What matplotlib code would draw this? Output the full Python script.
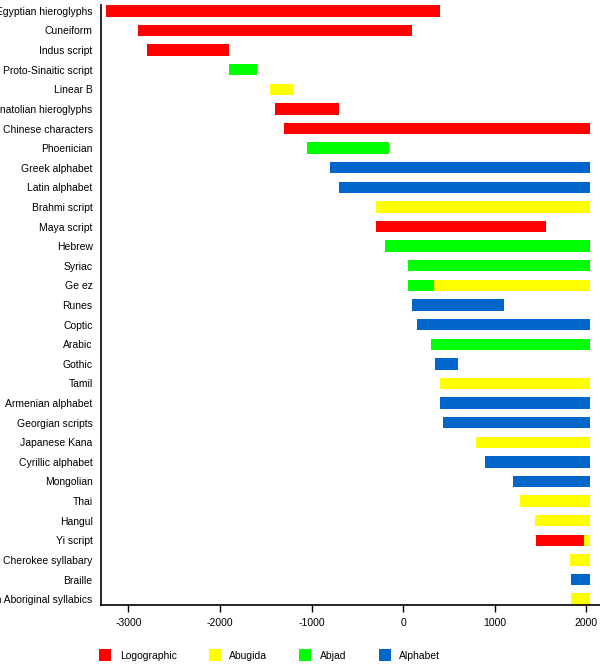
import matplotlib.pyplot as plt
from matplotlib.patches import Patch

plt.rcParams["font.family"] = ["Liberation Sans", "DejaVu Sans"]
plt.rcParams["font.size"] = 7.5
plt.rcParams["axes.unicode_minus"] = False

scripts = [
    "Egyptian hieroglyphs", "Cuneiform", "Indus script", "Proto-Sinaitic script",
    "Linear B", "Anatolian hieroglyphs", "Chinese characters", "Phoenician",
    "Greek alphabet", "Latin alphabet", "Brahmi script", "Maya script",
    "Hebrew", "Syriac", "Ge ez", "Runes", "Coptic", "Arabic", "Gothic",
    "Tamil", "Armenian alphabet", "Georgian scripts", "Japanese Kana",
    "Cyrillic alphabet", "Mongolian", "Thai", "Hangul", "Yi script",
    "Cherokee syllabary", "Braille", "Canadian Aboriginal syllabics",
]

# one entry per bar segment (Ge ez and Yi script have two)
seg_script = [
    "Egyptian hieroglyphs", "Cuneiform", "Indus script", "Proto-Sinaitic script",
    "Linear B", "Anatolian hieroglyphs", "Chinese characters", "Phoenician",
    "Greek alphabet", "Latin alphabet", "Brahmi script", "Maya script",
    "Hebrew", "Syriac", "Ge ez", "Ge ez", "Runes", "Coptic", "Arabic", "Gothic",
    "Tamil", "Armenian alphabet", "Georgian scripts", "Japanese Kana",
    "Cyrillic alphabet", "Mongolian", "Thai", "Hangul", "Yi script", "Yi script",
    "Cherokee syllabary", "Braille", "Canadian Aboriginal syllabics",
]
seg_start = [
    -3250, -2900, -2800, -1900, -1450, -1400, -1300, -1050,
    -800, -700, -300, -300, -200, 50, 50, 340, 100, 150, 300, 350,
    400, 400, 430, 800, 890, 1200, 1280, 1444, 1450, 1975,
    1821, 1830, 1830,
]
seg_end = [
    400, 100, -1900, -1600, -1200, -700, 2045, -150,
    2045, 2045, 2045, 1560, 2045, 2045, 340, 2045, 1100, 2045, 2045, 600,
    2045, 2045, 2045, 2045, 2045, 2045, 2045, 2045, 1975, 2045,
    2045, 2045, 2045,
]
seg_type = [
    "Logographic", "Logographic", "Logographic", "Abjad",
    "Abugida", "Logographic", "Logographic", "Abjad",
    "Alphabet", "Alphabet", "Abugida", "Logographic",
    "Abjad", "Abjad", "Abjad", "Abugida", "Alphabet", "Alphabet", "Abjad", "Alphabet",
    "Abugida", "Alphabet", "Alphabet", "Abugida",
    "Alphabet", "Alphabet", "Abugida", "Abugida", "Logographic", "Abugida",
    "Abugida", "Alphabet", "Abugida",
]

type_names = ["Logographic", "Abugida", "Abjad", "Alphabet"]
type_colors = {
    "Logographic": "#ff0000",
    "Abugida": "#ffff00",
    "Abjad": "#00ff00",
    "Alphabet": "#0066cc",
}

figure = plt.figure(figsize=(6, 6.65), dpi=100)
axis = figure.add_axes([101 / 600, 60 / 665, 1 - 101 / 600, 600 / 665])

rows = [scripts.index(name) for name in seg_script]
axis.barh(
    rows,
    [end - start for start, end in zip(seg_start, seg_end)],
    left=seg_start,
    height=0.58,
    color=[type_colors[t] for t in seg_type],
    linewidth=0,
)

axis.set_yticks(range(len(scripts)))
axis.set_yticklabels(scripts)
axis.set_ylim(len(scripts) - 0.7, -0.3)
axis.set_xlim(-3300, 2150)
axis.set_xticks([-3000, -2000, -1000, 0, 1000, 2000])

axis.spines["top"].set_visible(False)
axis.spines["right"].set_visible(False)
axis.spines["left"].set_linewidth(1.2)
axis.spines["bottom"].set_linewidth(1.2)
axis.tick_params(axis="y", length=0, pad=6)
axis.tick_params(axis="x", length=5, width=1, pad=4)

handles = [Patch(facecolor=type_colors[t], edgecolor="none", label=t) for t in type_names]
figure.legend(
    handles=handles,
    loc="center left",
    bbox_to_anchor=(90 / 600, 1 - 655 / 665),
    ncol=4,
    frameon=False,
    handlelength=1.15,
    handleheight=1.25,
    handletextpad=0.8,
    columnspacing=3.1,
)

figure.savefig("out.png", dpi=100)
plt.close(figure)
